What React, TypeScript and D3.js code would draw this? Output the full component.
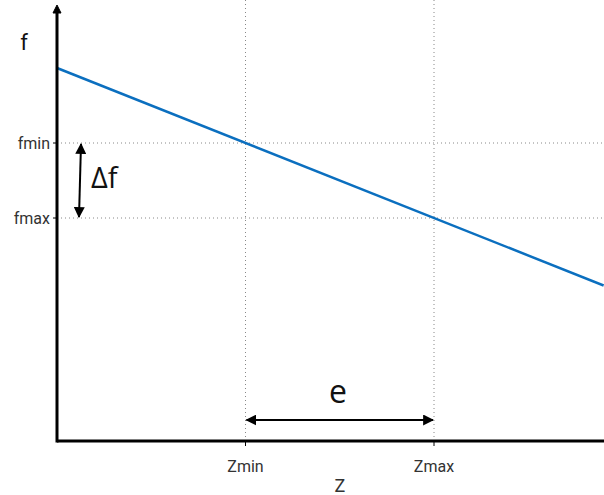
import React from "react";
import * as d3 from "d3";

const lineZ = [0, 2.9];
const lineF = [3, 0.1];
const zTicks = [1, 2];
const zTickLabels = ["Zmin", "Zmax"];
const fTicks = [2, 1];
const fTickLabels = ["fmin", "fmax"];

const W = 604;
const H = 495;

export default function App() {
  const x = d3.scaleLinear().domain([0, 1]).range([57, 245.5]);
  const y = d3.scaleLinear().domain([1, 2]).range([218, 143]);
  const x0 = 57;
  const xEnd = 604;
  const y0 = 441;
  const yTop = 5;
  const line = d3
    .line<number>()
    .x((_, i) => x(lineZ[i]))
    .y((d) => y(d));
  const pts = lineF;
  const lab = "Roboto, Liberation Sans, Arial, sans-serif";
  const big = "Open Sans, DejaVu Sans, sans-serif";
  return (
    <svg
      width={W}
      height={H}
      style={{ position: "absolute", left: 0, top: 0, background: "#fff" }}
    >
      <defs>
        <marker id="ah" viewBox="0 0 10 10" refX="9" refY="5" markerWidth="5.5" markerHeight="5.5" orient="auto-start-reverse">
          <path d="M0,0 L10,5 L0,10 z" fill="#000" />
        </marker>
      </defs>
      {/* grid */}
      {zTicks.map((t) => (
        <line key={"gz" + t} x1={x(t)} x2={x(t)} y1={0} y2={y0} stroke="#888" strokeWidth={1} strokeDasharray="1,3" />
      ))}
      {fTicks.map((t) => (
        <line key={"gf" + t} x1={x0} x2={xEnd} y1={y(t)} y2={y(t)} stroke="#888" strokeWidth={1} strokeDasharray="1,3" />
      ))}
      {/* data line */}
      <path d={line(pts) || ""} fill="none" stroke="#0b6fbf" strokeWidth={2.5} />
      {/* axes */}
      <line x1={x0} x2={xEnd} y1={y0} y2={y0} stroke="#000" strokeWidth={3} />
      <line x1={x0} x2={x0} y1={y0 + 1.5} y2={yTop + 6} stroke="#000" strokeWidth={3} />
      <path d={`M${x0 - 4},${yTop + 8} L${x0},${yTop} L${x0 + 4},${yTop + 8} z`} fill="#000" stroke="#000" strokeWidth={1} />
      {/* ticks */}
      {zTicks.map((t, i) => (
        <g key={"tz" + t}>
          <line x1={x(t)} x2={x(t)} y1={y0} y2={y0 + 5} stroke="#000" strokeWidth={1} />
          <text x={x(t)} y={y0 + 31} textAnchor="middle" fontFamily={lab} fontSize={16} fill="#333">
            {zTickLabels[i]}
          </text>
        </g>
      ))}
      {fTicks.map((t, i) => (
        <g key={"tf" + t}>
          <line x1={x0 - 4} x2={x0} y1={y(t)} y2={y(t)} stroke="#000" strokeWidth={1} />
          <text x={x0 - 7} y={y(t) + 6} textAnchor="end" fontFamily={lab} fontSize={16} fill="#333">
            {fTickLabels[i]}
          </text>
        </g>
      ))}
      {/* axis titles */}
      <text x={24} y={50} textAnchor="middle" fontFamily={lab} fontSize={22} fill="#111">f</text>
      <text x={340} y={492} textAnchor="middle" fontFamily={lab} fontSize={18} fill="#333">Z</text>
      {/* delta f arrow */}
      <line x1={81} x2={79} y1={y(2) + 1} y2={y(1) - 1} stroke="#000" strokeWidth={2} markerStart="url(#ah)" markerEnd="url(#ah)" />
      <text x={91} y={188} fontFamily={big} fontSize={29} fill="#111">Δf</text>
      {/* e arrow */}
      <line x1={x(1) + 1} x2={x(2) - 1} y1={420} y2={420} stroke="#000" strokeWidth={2} markerStart="url(#ah)" markerEnd="url(#ah)" />
      <text x={338} y={403} textAnchor="middle" fontFamily={big} fontSize={32} fill="#111">e</text>
    </svg>
  );
}
